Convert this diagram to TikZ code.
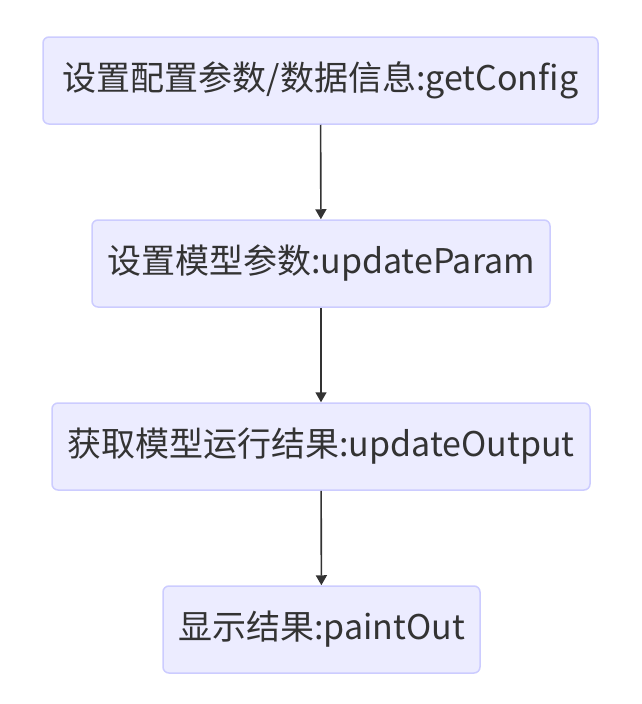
\documentclass[tikz,border=0pt]{standalone}
\usepackage{fontspec}
\setmainfont{Noto Sans CJK SC}
\usetikzlibrary{arrows.meta}
\definecolor{boxfill}{HTML}{ECECFF}
\definecolor{boxline}{HTML}{CCCCFF}
\definecolor{txt}{HTML}{333333}
\tikzset{
  stepbox/.style={draw=boxline, fill=boxfill, line width=1.5pt, rounded corners=6pt,
    minimum height=87pt, inner sep=0pt, text=txt, font=\fontsize{34}{40}\selectfont},
  conn/.style={draw=txt, line width=1.6pt, -{Triangle[length=10pt,width=11pt]}}
}
\begin{document}
\begin{tikzpicture}[x=1pt,y=-1pt]
\useasboundingbox (0,0) rectangle (642,704);
\node[stepbox, minimum width=555pt] (a) at (320.5,80.5) {设置配置参数/数据信息:getConfig};
\node[stepbox, minimum width=458pt] (b) at (321,263.5) {设置模型参数:updateParam};
\node[stepbox, minimum width=538pt] (c) at (321,446.5) {获取模型运行结果:updateOutput};
\node[stepbox, minimum width=317pt] (d) at (321.5,629.5) {显示结果:paintOut};
\draw[conn] (a) -- (b);
\draw[conn] (b) -- (c);
\draw[conn] (c) -- (d);
\end{tikzpicture}
\end{document}
